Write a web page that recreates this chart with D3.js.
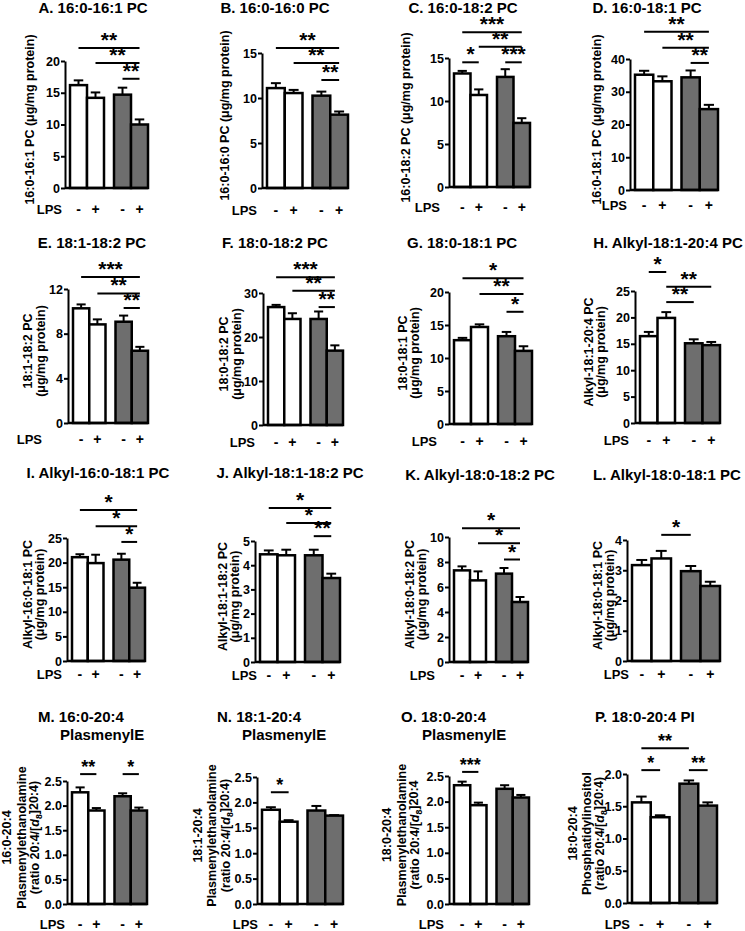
<!DOCTYPE html>
<html><head><meta charset="utf-8">
<script src="https://cdn.jsdelivr.net/npm/d3@7"></script>
<style>
body{margin:0;background:#fff}
svg{display:block;font-family:"Liberation Sans",Arial,Helvetica,sans-serif;font-weight:bold}
</style></head><body>
<svg id="c" width="745" height="931"></svg>
<script>
// ---------------- DATA ----------------
const panelTitles = [
  ["A. 16:0-16:1 PC"], ["B. 16:0-16:0 PC"], ["C. 16:0-18:2 PC"], ["D. 16:0-18:1 PC"],
  ["E. 18:1-18:2 PC"], ["F. 18:0-18:2 PC"], ["G. 18:0-18:1 PC"], ["H. Alkyl-18:1-20:4 PC"],
  ["I. Alkyl-16:0-18:1 PC"], ["J. Alkyl-18:1-18:2 PC"], ["K. Alkyl-18:0-18:2 PC"], ["L. Alkyl-18:0-18:1 PC"],
  ["M. 16:0-20:4", "PlasmenylE"], ["N. 18:1-20:4", "PlasmenylE"], ["O. 18:0-20:4", "PlasmenylE"], ["P. 18:0-20:4 PI"]
];
const yAxisLabels = [
  ["16:0-16:1 PC (μg/mg protein)"], ["16:0-16:0 PC (μg/mg protein)"],
  ["16:0-18:2 PC (μg/mg protein)"], ["16:0-18:1 PC (μg/mg protein)"],
  ["18:1-18:2 PC", "(μg/mg protein)"], ["18:0-18:2 PC", "(μg/mg protein)"],
  ["18:0-18:1 PC", "(μg/mg protein)"], ["Alkyl-18:1-20:4 PC", "(μg/mg protein)"],
  ["Alkyl-16:0-18:1 PC", "(μg/mg protein)"], ["Alkyl-18:1-18:2 PC", "(μg/mg protein)"],
  ["Alkyl-18:0-18:2 PC", "(μg/mg protein)"], ["Alkyl-18:0-18:1 PC", "(μg/mg protein)"],
  ["16:0-20:4", "Plasmenylethanolamine", "(ratio 20:4/[d8]20:4)"],
  ["18:1-20:4", "Plasmenylethanolamine", "(ratio 20:4/[d8]20:4)"],
  ["18:0-20:4", "Plasmenylethanolamine", "(ratio 20:4/[d8]20:4"],
  ["18:0-20:4", "Phosphatidylinositol", "(ratio 20:4/[d8]20:4)"]
];
const groupNames = ["group1", "group2"];      // white bars, grey bars
const lpsSigns = ["-", "+"];
const yMax  = [20, 15, 15, 40, 12, 30, 20, 25, 25, 5, 10, 4, 2.5, 2.5, 2.5, 2.0];
const yStep = [5, 5, 5, 10, 4, 10, 5, 5, 5, 1, 2, 1, 0.5, 0.5, 0.5, 0.5];
const yDecimals = [0,0,0,0,0,0,0,0,0,0,0,0,1,1,1,1];
const means = [
  [16.2, 14.2, 14.7, 10.0],
  [11.1, 10.55, 10.26, 8.15],
  [13.2, 10.7, 12.8, 7.45],
  [35.2, 33.2, 34.4, 24.7],
  [10.27, 8.83, 9.07, 6.47],
  [26.8, 24.1, 24.1, 16.9],
  [12.7, 14.7, 13.3, 11.08],
  [16.45, 19.9, 15.1, 14.75],
  [21.1, 19.9, 20.6, 14.9],
  [4.45, 4.41, 4.41, 3.47],
  [7.33, 6.53, 7.07, 4.8],
  [3.17, 3.39, 2.97, 2.48],
  [2.27, 1.9, 2.19, 1.9],
  [1.855, 1.62, 1.84, 1.74],
  [2.32, 1.93, 2.25, 2.08],
  [1.56, 1.33, 1.85, 1.51]
];
const sems = [
  [0.75, 0.85, 1.1, 0.8],
  [0.55, 0.35, 0.45, 0.35],
  [0.3, 0.65, 0.9, 0.55],
  [1.2, 1.5, 2.1, 1.3],
  [0.35, 0.45, 0.55, 0.35],
  [0.5, 1.3, 1.7, 1.2],
  [0.35, 0.4, 0.65, 0.7],
  [0.8, 1.1, 0.75, 0.6],
  [0.6, 1.7, 1.2, 1.0],
  [0.16, 0.23, 0.23, 0.18],
  [0.32, 0.72, 0.45, 0.4],
  [0.17, 0.25, 0.17, 0.14],
  [0.1, 0.05, 0.06, 0.06],
  [0.05, 0.03, 0.09, 0.01],
  [0.07, 0.05, 0.07, 0.05],
  [0.09, 0.03, 0.05, 0.05]
];
// significance brackets: [fromBar, toBar, label, level (data units)]
const brackets = [
  [[0,3,"**",22.05],[1,3,"**",19.7],[2,3,"**",17.2]],
  [[0,3,"**",15.55],[1,3,"**",13.9],[2,3,"**",12.0]],
  [[0,3,"***",18.0],[1,3,"**",16.3],[0,1,"*",14.5],[2,3,"***",14.5]],
  [[0,3,"**",48.3],[1,3,"**",43.4],[2,3,"**",38.8]],
  [[0,3,"***",13.07],[1,3,"**",11.6],[2,3,"**",10.3]],
  [[0,3,"***",33.6],[1,3,"**",30.5],[2,3,"**",26.8]],
  [[0,3,"*",22.1],[1,3,"**",19.7],[2,3,"*",17.0]],
  [[0,1,"*",28.6],[1,3,"**",25.8],[1,2,"**",22.9]],
  [[0,3,"*",30.7],[1,3,"*",27.4],[2,3,"*",24.2]],
  [[0,3,"*",6.36],[1,3,"*",5.74],[2,3,"**",5.2]],
  [[0,3,"*",10.7],[1,3,"*",9.5],[2,3,"*",8.2]],
  [[1,2,"*",4.17]],
  [[0,1,"**",2.64],[2,3,"*",2.64]],
  [[0,1,"*",2.2]],
  [[0,1,"***",2.58]],
  [[0,2,"**",2.4],[0,1,"*",2.06],[2,3,"**",2.06]]
];

// ---------------- LAYOUT (pixels) ----------------
const layout = [
  {ax:65,  right:148, top:61,  base:188, tx:[93],  ty:12.5, lab:[-35], lpsX:62,  lpsDy:21},
  {ax:262, right:348, top:53,  base:188, tx:[275], ty:12.5, lab:[-37], lpsX:257, lpsDy:22},
  {ax:449, right:530, top:58,  base:187, tx:[463], ty:12.5, lab:[-43], lpsX:440, lpsDy:20},
  {ax:630, right:718, top:59,  base:190, tx:[647], ty:12.5, lab:[-33], lpsX:627, lpsDy:15},
  {ax:68,  right:148, top:289, base:423, tx:[92],  ty:248, lab:[-40,-27], lpsX:42,  lpsDy:16},
  {ax:263, right:343, top:293, base:425, tx:[275], ty:248, lab:[-39,-26], lpsX:255, lpsDy:17},
  {ax:449, right:532, top:292, base:424, tx:[462], ty:248, lab:[-46,-34], lpsX:437, lpsDy:17},
  {ax:635, right:720, top:291, base:423, tx:[668], ty:248, lab:[-46,-34], lpsX:629, lpsDy:17},
  {ax:67,  right:145, top:538, base:661, tx:[98],  ty:478, lab:[-39,-27], lpsX:62,  lpsDy:13},
  {ax:255, right:340, top:541, base:662, tx:[290], ty:478, lab:[-32,-20], lpsX:257, lpsDy:13},
  {ax:449, right:528, top:537, base:662, tx:[480], ty:480, lab:[-39,-27], lpsX:435, lpsDy:13},
  {ax:627, right:720, top:540, base:661, tx:[667], ty:480, lab:[-29,-17], lpsX:629, lpsDy:13},
  {ax:67,  right:147, top:781, base:904, tx:[38,60],   ty:722, lab:[-60,-45,-32], lpsX:65,  lpsDy:20},
  {ax:257, right:343, top:777, base:904, tx:[217,242], ty:722, lab:[-59,-45,-31], lpsX:258, lpsDy:20},
  {ax:449, right:529, top:776, base:904, tx:[401,422], ty:722, lab:[-62,-47,-34], lpsX:444, lpsDy:20},
  {ax:627, right:717, top:774, base:903, tx:[595],     ty:722, lab:[-54,-40,-27], lpsX:630, lpsDy:21}
];

const GREY = "#6e6e6e";
const svg = d3.select("#c");

function addLabelText(sel, str) {
  const m = str.indexOf("d8");
  if (m < 0) { sel.text(str); return; }
  sel.append("tspan").text(str.slice(0, m));
  sel.append("tspan").attr("font-style", "italic").text("d");
  sel.append("tspan").attr("font-size", "0.7em").attr("dy", "0.3em").text("8");
  sel.append("tspan").attr("dy", "-0.3em").text(str.slice(m + 2));
}

panelTitles.forEach((title, i) => {
  const L = layout[i];
  const row4 = i >= 12;
  const g = svg.append("g");

  const y = d3.scaleLinear().domain([0, yMax[i]]).range([L.base, L.top]);
  const pad = 5, gap = 10;
  const W = L.right - (L.ax + pad);
  const bw2 = (W - gap) / 2;
  const outer = d3.scaleBand().domain(groupNames)
      .range([L.ax + pad, L.right]).paddingInner(gap / (bw2 + gap)).paddingOuter(0);
  const inner = d3.scaleBand().domain(lpsSigns).range([0, outer.bandwidth()]).padding(0);
  const barX = k => outer(groupNames[Math.floor(k / 2)]) + inner(lpsSigns[k % 2]);
  const bw = inner.bandwidth();
  const cx = k => barX(k) + bw / 2;

  // title
  if (title.length === 1 && !row4) {
    g.append("text").attr("x", L.tx[0]).attr("y", L.ty).attr("text-anchor", "middle")
      .attr("font-size", 15).text(title[0]);
  } else {
    title.forEach((t, j) => {
      g.append("text").attr("x", L.tx[j]).attr("y", L.ty + j * 18).attr("text-anchor", "start")
        .attr("font-size", 15).text(t);
    });
  }

  // y-axis label
  const yc = (L.top + L.base) / 2 - 5;
  yAxisLabels[i].forEach((t, j) => {
    const tx = g.append("text")
      .attr("transform", `translate(${L.ax + L.lab[j]},${yc}) rotate(-90)`)
      .attr("text-anchor", "middle").attr("dy", "0.35em").attr("font-size", 12.5);
    addLabelText(tx, t);
  });

  // y axis
  const ticks = d3.range(0, yMax[i] + 1e-9, yStep[i]);
  const ax = g.append("g").attr("transform", `translate(${L.ax},0)`)
    .call(d3.axisLeft(y).tickValues(ticks).tickSize(4).tickSizeOuter(0).tickPadding(1)
      .tickFormat(d3.format(`.${yDecimals[i]}f`)));
  ax.select(".domain").attr("stroke", "#000").attr("stroke-width", 2);
  ax.selectAll(".tick line").attr("stroke", "#000").attr("stroke-width", 2);
  ax.selectAll(".tick text").attr("font-size", 12.5)
    .attr("font-family", "'Liberation Sans',Arial,sans-serif").attr("font-weight", "bold").attr("fill", "#000");

  // error bars
  means[i].forEach((m, k) => {
    const e = sems[i][k];
    g.append("line").attr("x1", cx(k)).attr("x2", cx(k)).attr("y1", y(m)).attr("y2", y(m + e))
      .attr("stroke", "#000").attr("stroke-width", 2);
    g.append("line").attr("x1", cx(k) - bw * 0.28).attr("x2", cx(k) + bw * 0.28)
      .attr("y1", y(m + e)).attr("y2", y(m + e)).attr("stroke", "#000").attr("stroke-width", 2);
  });
  // bars
  g.selectAll("rect.bar").data(means[i]).join("rect").attr("class", "bar")
    .attr("x", (d, k) => barX(k)).attr("y", d => y(d))
    .attr("width", bw).attr("height", d => y(0) - y(d))
    .attr("fill", (d, k) => k < 2 ? "#fff" : GREY)
    .attr("stroke", "#000").attr("stroke-width", 2.5);

  // x baseline
  g.append("line").attr("x1", L.ax).attr("x2", L.right).attr("y1", y(0)).attr("y2", y(0))
    .attr("stroke", "#000").attr("stroke-width", 2.5);

  // LPS row
  g.append("text").attr("x", L.lpsX).attr("y", L.base + L.lpsDy).attr("dy", "0.35em")
    .attr("text-anchor", "end").attr("font-size", 13).text("LPS");
  means[i].forEach((m, k) => {
    g.append("text").attr("x", cx(k)).attr("y", L.base + L.lpsDy).attr("dy", "0.35em")
      .attr("text-anchor", "middle").attr("font-size", 14).text(lpsSigns[k % 2]);
  });

  // significance brackets
  brackets[i].forEach(([a, b, lab, lev]) => {
    const yy = y(lev);
    g.append("line").attr("x1", cx(a)).attr("x2", cx(b)).attr("y1", yy).attr("y2", yy)
      .attr("stroke", "#000").attr("stroke-width", 2);
    g.append("text").attr("x", (cx(a) + cx(b)) / 2).attr("y", yy - 1)
      .attr("text-anchor", "middle").attr("font-size", row4 ? 18 : 21).text(lab);
  });
});
</script>
</body></html>
